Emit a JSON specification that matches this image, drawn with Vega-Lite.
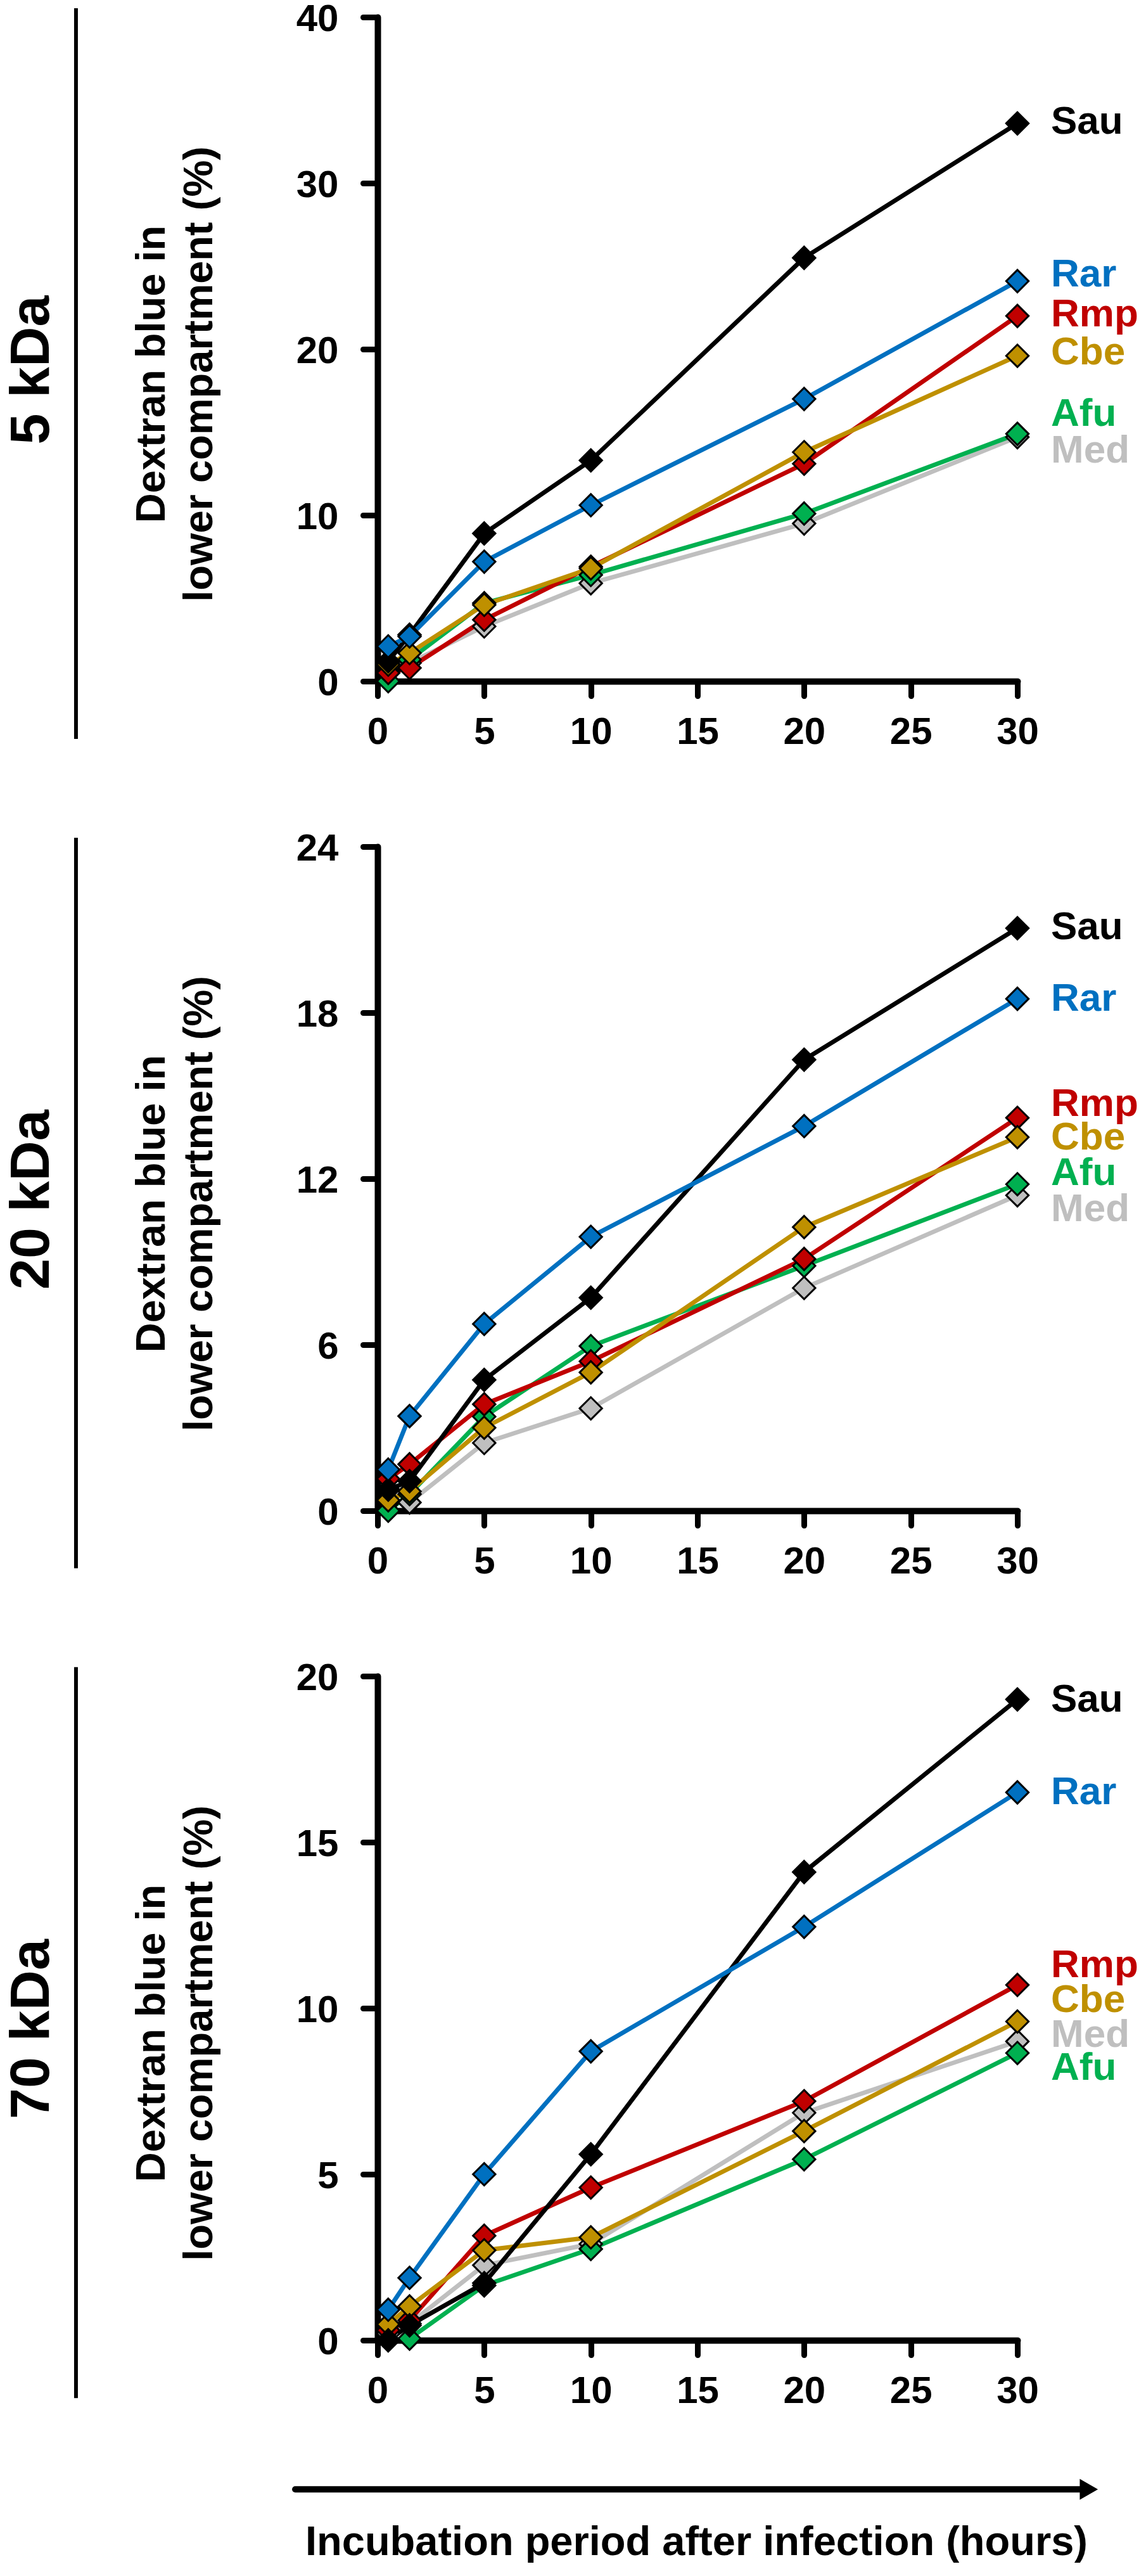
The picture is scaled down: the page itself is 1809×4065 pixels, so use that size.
{
  "$schema": "https://vega.github.io/schema/vega-lite/v6.json",
  "background": "white",
  "padding": {"left": 6, "top": 0, "right": 0, "bottom": 0},
  "config": {
    "view": {"stroke": null},
    "font": "Liberation Sans",
    "axis": {
      "domainColor": "black", "domainWidth": 10, "domainCap": "round",
      "tickColor": "black", "tickWidth": 9, "tickCap": "round", "tickSize": 23,
      "labelFont": "Liberation Sans", "labelFontSize": 60, "labelFontWeight": "bold", "labelColor": "black",
      "labelFlush": false, "labelOverlap": false, "grid": false,
      "titleFont": "Liberation Sans", "titleColor": "black", "titleFontWeight": "bold", "titleFontSize": 65
    },
    "axisX": {"labelPadding": 28},
    "axisY": {"labelPadding": 39, "labelOffset": 3, "titleLineHeight": 75}
  },
  "datasets": {
    "series": [
      {"panel": "5 kDa", "strain": "Med", "time": 0.5, "value": 0.6},
      {"panel": "5 kDa", "strain": "Med", "time": 1.5, "value": 1.1},
      {"panel": "5 kDa", "strain": "Med", "time": 5, "value": 3.3},
      {"panel": "5 kDa", "strain": "Med", "time": 10, "value": 5.9},
      {"panel": "5 kDa", "strain": "Med", "time": 20, "value": 9.5},
      {"panel": "5 kDa", "strain": "Med", "time": 30, "value": 14.7},
      {"panel": "5 kDa", "strain": "Afu", "time": 0.5, "value": 0.0},
      {"panel": "5 kDa", "strain": "Afu", "time": 1.5, "value": 1.3},
      {"panel": "5 kDa", "strain": "Afu", "time": 5, "value": 4.7},
      {"panel": "5 kDa", "strain": "Afu", "time": 10, "value": 6.4},
      {"panel": "5 kDa", "strain": "Afu", "time": 20, "value": 10.1},
      {"panel": "5 kDa", "strain": "Afu", "time": 30, "value": 14.9},
      {"panel": "5 kDa", "strain": "Rmp", "time": 0.5, "value": 0.5},
      {"panel": "5 kDa", "strain": "Rmp", "time": 1.5, "value": 0.8},
      {"panel": "5 kDa", "strain": "Rmp", "time": 5, "value": 3.7},
      {"panel": "5 kDa", "strain": "Rmp", "time": 10, "value": 6.9},
      {"panel": "5 kDa", "strain": "Rmp", "time": 20, "value": 13.1},
      {"panel": "5 kDa", "strain": "Rmp", "time": 30, "value": 22.0},
      {"panel": "5 kDa", "strain": "Cbe", "time": 0.5, "value": 1.0},
      {"panel": "5 kDa", "strain": "Cbe", "time": 1.5, "value": 1.7},
      {"panel": "5 kDa", "strain": "Cbe", "time": 5, "value": 4.6},
      {"panel": "5 kDa", "strain": "Cbe", "time": 10, "value": 6.8},
      {"panel": "5 kDa", "strain": "Cbe", "time": 20, "value": 13.8},
      {"panel": "5 kDa", "strain": "Cbe", "time": 30, "value": 19.6},
      {"panel": "5 kDa", "strain": "Sau", "time": 0.5, "value": 1.2},
      {"panel": "5 kDa", "strain": "Sau", "time": 1.5, "value": 2.8},
      {"panel": "5 kDa", "strain": "Sau", "time": 5, "value": 8.9},
      {"panel": "5 kDa", "strain": "Sau", "time": 10, "value": 13.3},
      {"panel": "5 kDa", "strain": "Sau", "time": 20, "value": 25.5},
      {"panel": "5 kDa", "strain": "Sau", "time": 30, "value": 33.6},
      {"panel": "5 kDa", "strain": "Rar", "time": 0.5, "value": 2.1},
      {"panel": "5 kDa", "strain": "Rar", "time": 1.5, "value": 2.7},
      {"panel": "5 kDa", "strain": "Rar", "time": 5, "value": 7.2},
      {"panel": "5 kDa", "strain": "Rar", "time": 10, "value": 10.6},
      {"panel": "5 kDa", "strain": "Rar", "time": 20, "value": 17.0},
      {"panel": "5 kDa", "strain": "Rar", "time": 30, "value": 24.1},

      {"panel": "20 kDa", "strain": "Med", "time": 0.5, "value": 0.3},
      {"panel": "20 kDa", "strain": "Med", "time": 1.5, "value": 0.3},
      {"panel": "20 kDa", "strain": "Med", "time": 5, "value": 2.45},
      {"panel": "20 kDa", "strain": "Med", "time": 10, "value": 3.7},
      {"panel": "20 kDa", "strain": "Med", "time": 20, "value": 8.05},
      {"panel": "20 kDa", "strain": "Med", "time": 30, "value": 11.4},
      {"panel": "20 kDa", "strain": "Afu", "time": 0.5, "value": 0.0},
      {"panel": "20 kDa", "strain": "Afu", "time": 1.5, "value": 0.6},
      {"panel": "20 kDa", "strain": "Afu", "time": 5, "value": 3.4},
      {"panel": "20 kDa", "strain": "Afu", "time": 10, "value": 5.95},
      {"panel": "20 kDa", "strain": "Afu", "time": 20, "value": 8.85},
      {"panel": "20 kDa", "strain": "Afu", "time": 30, "value": 11.8},
      {"panel": "20 kDa", "strain": "Rmp", "time": 0.5, "value": 1.15},
      {"panel": "20 kDa", "strain": "Rmp", "time": 1.5, "value": 1.68},
      {"panel": "20 kDa", "strain": "Rmp", "time": 5, "value": 3.85},
      {"panel": "20 kDa", "strain": "Rmp", "time": 10, "value": 5.4},
      {"panel": "20 kDa", "strain": "Rmp", "time": 20, "value": 9.1},
      {"panel": "20 kDa", "strain": "Rmp", "time": 30, "value": 14.2},
      {"panel": "20 kDa", "strain": "Cbe", "time": 0.5, "value": 0.38},
      {"panel": "20 kDa", "strain": "Cbe", "time": 1.5, "value": 0.7},
      {"panel": "20 kDa", "strain": "Cbe", "time": 5, "value": 3.0},
      {"panel": "20 kDa", "strain": "Cbe", "time": 10, "value": 5.0},
      {"panel": "20 kDa", "strain": "Cbe", "time": 20, "value": 10.25},
      {"panel": "20 kDa", "strain": "Cbe", "time": 30, "value": 13.5},
      {"panel": "20 kDa", "strain": "Sau", "time": 0.5, "value": 0.76},
      {"panel": "20 kDa", "strain": "Sau", "time": 1.5, "value": 1.07},
      {"panel": "20 kDa", "strain": "Sau", "time": 5, "value": 4.73},
      {"panel": "20 kDa", "strain": "Sau", "time": 10, "value": 7.7},
      {"panel": "20 kDa", "strain": "Sau", "time": 20, "value": 16.3},
      {"panel": "20 kDa", "strain": "Sau", "time": 30, "value": 21.05},
      {"panel": "20 kDa", "strain": "Rar", "time": 0.5, "value": 1.49},
      {"panel": "20 kDa", "strain": "Rar", "time": 1.5, "value": 3.42},
      {"panel": "20 kDa", "strain": "Rar", "time": 5, "value": 6.75},
      {"panel": "20 kDa", "strain": "Rar", "time": 10, "value": 9.9},
      {"panel": "20 kDa", "strain": "Rar", "time": 20, "value": 13.9},
      {"panel": "20 kDa", "strain": "Rar", "time": 30, "value": 18.5},

      {"panel": "70 kDa", "strain": "Med", "time": 0.5, "value": 0.2},
      {"panel": "70 kDa", "strain": "Med", "time": 1.5, "value": 0.5},
      {"panel": "70 kDa", "strain": "Med", "time": 5, "value": 2.26},
      {"panel": "70 kDa", "strain": "Med", "time": 10, "value": 2.9},
      {"panel": "70 kDa", "strain": "Med", "time": 20, "value": 6.85},
      {"panel": "70 kDa", "strain": "Med", "time": 30, "value": 9.0},
      {"panel": "70 kDa", "strain": "Afu", "time": 0.5, "value": 0.0},
      {"panel": "70 kDa", "strain": "Afu", "time": 1.5, "value": 0.05},
      {"panel": "70 kDa", "strain": "Afu", "time": 5, "value": 1.65},
      {"panel": "70 kDa", "strain": "Afu", "time": 10, "value": 2.75},
      {"panel": "70 kDa", "strain": "Afu", "time": 20, "value": 5.45},
      {"panel": "70 kDa", "strain": "Afu", "time": 30, "value": 8.65},
      {"panel": "70 kDa", "strain": "Rmp", "time": 0.5, "value": 0.3},
      {"panel": "70 kDa", "strain": "Rmp", "time": 1.5, "value": 0.6},
      {"panel": "70 kDa", "strain": "Rmp", "time": 5, "value": 3.15},
      {"panel": "70 kDa", "strain": "Rmp", "time": 10, "value": 4.6},
      {"panel": "70 kDa", "strain": "Rmp", "time": 20, "value": 7.2},
      {"panel": "70 kDa", "strain": "Rmp", "time": 30, "value": 10.7},
      {"panel": "70 kDa", "strain": "Cbe", "time": 0.5, "value": 0.48},
      {"panel": "70 kDa", "strain": "Cbe", "time": 1.5, "value": 1.02},
      {"panel": "70 kDa", "strain": "Cbe", "time": 5, "value": 2.71},
      {"panel": "70 kDa", "strain": "Cbe", "time": 10, "value": 3.1},
      {"panel": "70 kDa", "strain": "Cbe", "time": 20, "value": 6.3},
      {"panel": "70 kDa", "strain": "Cbe", "time": 30, "value": 9.6},
      {"panel": "70 kDa", "strain": "Sau", "time": 0.5, "value": 0.0},
      {"panel": "70 kDa", "strain": "Sau", "time": 1.5, "value": 0.45},
      {"panel": "70 kDa", "strain": "Sau", "time": 5, "value": 1.72},
      {"panel": "70 kDa", "strain": "Sau", "time": 10, "value": 5.6},
      {"panel": "70 kDa", "strain": "Sau", "time": 20, "value": 14.1},
      {"panel": "70 kDa", "strain": "Sau", "time": 30, "value": 19.3},
      {"panel": "70 kDa", "strain": "Rar", "time": 0.5, "value": 0.92},
      {"panel": "70 kDa", "strain": "Rar", "time": 1.5, "value": 1.88},
      {"panel": "70 kDa", "strain": "Rar", "time": 5, "value": 5.0},
      {"panel": "70 kDa", "strain": "Rar", "time": 10, "value": 8.7},
      {"panel": "70 kDa", "strain": "Rar", "time": 20, "value": 12.45},
      {"panel": "70 kDa", "strain": "Rar", "time": 30, "value": 16.5}
    ],
    "labels": [
      {"panel": "5 kDa", "strain": "Sau", "labelY": 33.7},
      {"panel": "5 kDa", "strain": "Rar", "labelY": 24.5},
      {"panel": "5 kDa", "strain": "Rmp", "labelY": 22.1},
      {"panel": "5 kDa", "strain": "Cbe", "labelY": 19.8},
      {"panel": "5 kDa", "strain": "Afu", "labelY": 16.1},
      {"panel": "5 kDa", "strain": "Med", "labelY": 13.9},
      {"panel": "20 kDa", "strain": "Sau", "labelY": 21.1},
      {"panel": "20 kDa", "strain": "Rar", "labelY": 18.5},
      {"panel": "20 kDa", "strain": "Rmp", "labelY": 14.7},
      {"panel": "20 kDa", "strain": "Cbe", "labelY": 13.5},
      {"panel": "20 kDa", "strain": "Afu", "labelY": 12.2},
      {"panel": "20 kDa", "strain": "Med", "labelY": 10.9},
      {"panel": "70 kDa", "strain": "Sau", "labelY": 19.3},
      {"panel": "70 kDa", "strain": "Rar", "labelY": 16.5},
      {"panel": "70 kDa", "strain": "Rmp", "labelY": 11.3},
      {"panel": "70 kDa", "strain": "Cbe", "labelY": 10.25},
      {"panel": "70 kDa", "strain": "Med", "labelY": 9.2},
      {"panel": "70 kDa", "strain": "Afu", "labelY": 8.2}
    ],
    "panels": [
      {"panel": "5 kDa"},
      {"panel": "20 kDa"},
      {"panel": "70 kDa"}
    ]
  },
  "spacing": 261,
  "bounds": "flush",
  "vconcat": [
    {
      "width": 1010,
      "height": 1048,
      "layer": [
        {
          "data": {"name": "series"},
          "transform": [{"filter": "datum.panel === '5 kDa'"}],
          "mark": {"type": "line", "strokeWidth": 7, "strokeJoin": "round"},
          "encoding": {
            "x": {"field": "time", "type": "quantitative", "scale": {"domain": [0, 30], "nice": false},
                  "axis": {"values": [0, 5, 10, 15, 20, 25, 30], "title": null}},
            "y": {"field": "value", "type": "quantitative", "scale": {"domain": [0, 40], "nice": false},
                  "axis": {"values": [0, 10, 20, 30, 40], "title": ["Dextran blue in", "lower compartment (%)"],
                           "titleX": -337, "titleY": 563, "titleAngle": 270, "titleAlign": "center", "titleBaseline": "alphabetic"}},
            "color": {"field": "strain", "type": "nominal", "legend": null,
                      "scale": {"domain": ["Sau", "Rar", "Rmp", "Cbe", "Afu", "Med"],
                                "range": ["#000000", "#0070c0", "#c00000", "#bf9000", "#00b050", "#bfbfbf"]}}
          }
        },
        {
          "data": {"name": "series"},
          "transform": [{"filter": "datum.panel === '5 kDa'"}],
          "mark": {"type": "point", "shape": "diamond", "filled": true, "size": 1250, "stroke": "black", "strokeWidth": 3, "opacity": 1},
          "encoding": {
            "x": {"field": "time", "type": "quantitative"},
            "y": {"field": "value", "type": "quantitative"},
            "color": {"field": "strain", "type": "nominal", "legend": null}
          }
        },
        {
          "data": {"name": "labels"},
          "transform": [{"filter": "datum.panel === '5 kDa'"}],
          "mark": {"type": "text", "align": "left", "baseline": "middle", "dx": 53, "fontSize": 62, "fontWeight": "bold"},
          "encoding": {
            "x": {"datum": 30, "type": "quantitative"},
            "y": {"field": "labelY", "type": "quantitative"},
            "text": {"field": "strain"},
            "color": {"field": "strain", "type": "nominal", "legend": null}
          }
        },
        {
          "data": {"name": "panels"},
          "transform": [{"filter": "datum.panel === '5 kDa'"}],
          "mark": {"type": "rule", "strokeWidth": 6, "color": "black"},
          "encoding": {
            "x": {"datum": -14.14, "type": "quantitative"},
            "y": {"datum": -3.47, "type": "quantitative"},
            "y2": {"datum": 40.53}
          }
        },
        {
          "data": {"name": "panels"},
          "transform": [{"filter": "datum.panel === '5 kDa'"}],
          "mark": {"type": "text", "angle": 270, "align": "center", "baseline": "middle", "fontSize": 88, "fontWeight": "bold", "color": "black"},
          "encoding": {
            "x": {"datum": -16.19, "type": "quantitative"},
            "y": {"datum": 18.74, "type": "quantitative"},
            "text": {"field": "panel"}
          }
        }
      ]
    },
    {
      "width": 1010,
      "height": 1048,
      "layer": [
        {
          "data": {"name": "series"},
          "transform": [{"filter": "datum.panel === '20 kDa'"}],
          "mark": {"type": "line", "strokeWidth": 7, "strokeJoin": "round"},
          "encoding": {
            "x": {"field": "time", "type": "quantitative", "scale": {"domain": [0, 30], "nice": false},
                  "axis": {"values": [0, 5, 10, 15, 20, 25, 30], "title": null}},
            "y": {"field": "value", "type": "quantitative", "scale": {"domain": [0, 24], "nice": false},
                  "axis": {"values": [0, 6, 12, 18, 24], "title": ["Dextran blue in", "lower compartment (%)"],
                           "titleX": -337, "titleY": 563, "titleAngle": 270, "titleAlign": "center", "titleBaseline": "alphabetic"}},
            "color": {"field": "strain", "type": "nominal", "legend": null,
                      "scale": {"domain": ["Sau", "Rar", "Rmp", "Cbe", "Afu", "Med"],
                                "range": ["#000000", "#0070c0", "#c00000", "#bf9000", "#00b050", "#bfbfbf"]}}
          }
        },
        {
          "data": {"name": "series"},
          "transform": [{"filter": "datum.panel === '20 kDa'"}],
          "mark": {"type": "point", "shape": "diamond", "filled": true, "size": 1250, "stroke": "black", "strokeWidth": 3, "opacity": 1},
          "encoding": {
            "x": {"field": "time", "type": "quantitative"},
            "y": {"field": "value", "type": "quantitative"},
            "color": {"field": "strain", "type": "nominal", "legend": null}
          }
        },
        {
          "data": {"name": "labels"},
          "transform": [{"filter": "datum.panel === '20 kDa'"}],
          "mark": {"type": "text", "align": "left", "baseline": "middle", "dx": 53, "fontSize": 62, "fontWeight": "bold"},
          "encoding": {
            "x": {"datum": 30, "type": "quantitative"},
            "y": {"field": "labelY", "type": "quantitative"},
            "text": {"field": "strain"},
            "color": {"field": "strain", "type": "nominal", "legend": null}
          }
        },
        {
          "data": {"name": "panels"},
          "transform": [{"filter": "datum.panel === '20 kDa'"}],
          "mark": {"type": "rule", "strokeWidth": 6, "color": "black"},
          "encoding": {
            "x": {"datum": -14.14, "type": "quantitative"},
            "y": {"datum": -2.08, "type": "quantitative"},
            "y2": {"datum": 24.32}
          }
        },
        {
          "data": {"name": "panels"},
          "transform": [{"filter": "datum.panel === '20 kDa'"}],
          "mark": {"type": "text", "angle": 270, "align": "center", "baseline": "middle", "fontSize": 88, "fontWeight": "bold", "color": "black"},
          "encoding": {
            "x": {"datum": -16.19, "type": "quantitative"},
            "y": {"datum": 11.24, "type": "quantitative"},
            "text": {"field": "panel"}
          }
        }
      ]
    },
    {
      "width": 1010,
      "height": 1048,
      "layer": [
        {
          "data": {"name": "series"},
          "transform": [{"filter": "datum.panel === '70 kDa'"}],
          "mark": {"type": "line", "strokeWidth": 7, "strokeJoin": "round"},
          "encoding": {
            "x": {"field": "time", "type": "quantitative", "scale": {"domain": [0, 30], "nice": false},
                  "axis": {"values": [0, 5, 10, 15, 20, 25, 30], "title": "Incubation period after infection (hours)",
                           "titleX": 503, "titleY": 338, "titleAngle": 0, "titleAlign": "center", "titleBaseline": "alphabetic"}},
            "y": {"field": "value", "type": "quantitative", "scale": {"domain": [0, 20], "nice": false},
                  "axis": {"values": [0, 5, 10, 15, 20], "title": ["Dextran blue in", "lower compartment (%)"],
                           "titleX": -337, "titleY": 563, "titleAngle": 270, "titleAlign": "center", "titleBaseline": "alphabetic"}},
            "color": {"field": "strain", "type": "nominal", "legend": null,
                      "scale": {"domain": ["Sau", "Rar", "Rmp", "Cbe", "Afu", "Med"],
                                "range": ["#000000", "#0070c0", "#c00000", "#bf9000", "#00b050", "#bfbfbf"]}}
          }
        },
        {
          "data": {"name": "series"},
          "transform": [{"filter": "datum.panel === '70 kDa'"}],
          "mark": {"type": "point", "shape": "diamond", "filled": true, "size": 1250, "stroke": "black", "strokeWidth": 3, "opacity": 1},
          "encoding": {
            "x": {"field": "time", "type": "quantitative"},
            "y": {"field": "value", "type": "quantitative"},
            "color": {"field": "strain", "type": "nominal", "legend": null}
          }
        },
        {
          "data": {"name": "labels"},
          "transform": [{"filter": "datum.panel === '70 kDa'"}],
          "mark": {"type": "text", "align": "left", "baseline": "middle", "dx": 53, "fontSize": 62, "fontWeight": "bold"},
          "encoding": {
            "x": {"datum": 30, "type": "quantitative"},
            "y": {"field": "labelY", "type": "quantitative"},
            "text": {"field": "strain"},
            "color": {"field": "strain", "type": "nominal", "legend": null}
          }
        },
        {
          "data": {"name": "panels"},
          "transform": [{"filter": "datum.panel === '70 kDa'"}],
          "mark": {"type": "rule", "strokeWidth": 6, "color": "black"},
          "encoding": {
            "x": {"datum": -14.14, "type": "quantitative"},
            "y": {"datum": -1.74, "type": "quantitative"},
            "y2": {"datum": 20.27}
          }
        },
        {
          "data": {"name": "panels"},
          "transform": [{"filter": "datum.panel === '70 kDa'"}],
          "mark": {"type": "text", "angle": 270, "align": "center", "baseline": "middle", "fontSize": 88, "fontWeight": "bold", "color": "black"},
          "encoding": {
            "x": {"datum": -16.19, "type": "quantitative"},
            "y": {"datum": 9.37, "type": "quantitative"},
            "text": {"field": "panel"}
          }
        },
        {
          "data": {"name": "panels"},
          "transform": [{"filter": "datum.panel === '70 kDa'"}],
          "mark": {"type": "rule", "strokeWidth": 10, "strokeCap": "round", "color": "black"},
          "encoding": {
            "x": {"datum": -3.86, "type": "quantitative"},
            "x2": {"datum": 33.0},
            "y": {"datum": -4.49, "type": "quantitative"}
          }
        },
        {
          "data": {"name": "panels"},
          "transform": [{"filter": "datum.panel === '70 kDa'"}],
          "mark": {"type": "point", "shape": "triangle-right", "filled": true, "size": 1100, "color": "black", "opacity": 1},
          "encoding": {
            "x": {"datum": 33.35, "type": "quantitative"},
            "y": {"datum": -4.49, "type": "quantitative"}
          }
        }
      ]
    }
  ]
}
